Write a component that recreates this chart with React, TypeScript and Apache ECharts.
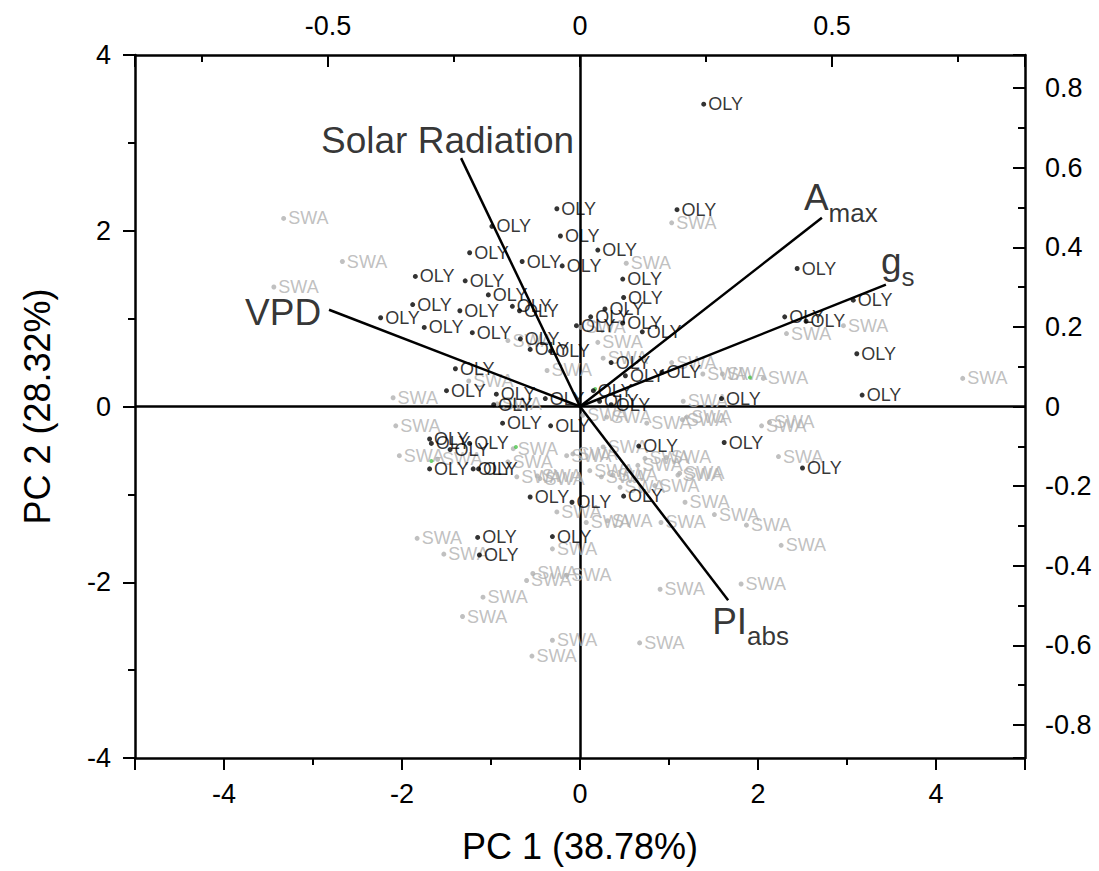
import React, { useEffect, useRef } from "react";
import * as echarts from "echarts";

// PCA scores (PC1, PC2)
const OLY_X = [1.39, 1.09, 2.44, 3.07, 2.30, 2.54, 3.11, 3.17, 0.20, 0.48, 0.49, 0.28, 0.12, -0.04, 0.70, 0.48, 0.35, 0.51, 0.92, 1.59, 0.15, 0.22, 0.35, -0.26, -0.22, -0.99, -1.24, -0.65, -0.20, -1.85, -1.29, -1.03, -1.88, -1.35, -0.76, -0.68, -2.24, -1.75, -1.21, -0.67, -0.56, -0.33, -1.40, -1.50, -0.94, -0.39, -0.97, -0.87, -0.33, -1.69, -1.67, -1.46, -1.24, -1.69, -1.20, -1.14, -0.56, -0.09, 0.49, 0.66, 1.62, 2.50, -1.15, -1.13, -0.31];
const OLY_Y = [3.44, 2.24, 1.57, 1.21, 1.02, 0.97, 0.60, 0.13, 1.78, 1.45, 1.24, 1.11, 1.02, 0.92, 0.85, 0.95, 0.50, 0.35, 0.39, 0.09, 0.18, 0.06, 0.02, 2.25, 1.94, 2.05, 1.75, 1.65, 1.60, 1.48, 1.43, 1.27, 1.16, 1.09, 1.14, 1.09, 1.01, 0.90, 0.84, 0.77, 0.65, 0.63, 0.43, 0.18, 0.14, 0.09, 0.02, -0.19, -0.22, -0.37, -0.42, -0.49, -0.42, -0.71, -0.71, -0.71, -1.03, -1.09, -1.02, -0.45, -0.41, -0.70, -1.49, -1.69, -1.48];

const SWA_X = [-3.33, -2.67, -3.44, -2.10, -1.25, -0.81, -0.37, -0.93, -2.07, -2.03, -1.60, -0.75, -0.81, -0.71, -0.45, -0.15, -0.26, -0.31, -1.83, -1.53, -0.60, -0.53, -0.15, -1.09, -1.32, -0.31, -0.54, 1.03, 0.52, 2.32, 2.96, 4.30, 0.20, 0.26, 1.03, 1.38, 1.60, 2.06, 1.16, 0.01, 0.75, 1.15, 2.04, 2.13, 2.23, -0.08, 0.26, 0.11, 0.24, 0.65, 0.73, 0.97, 1.10, 0.45, 0.84, 1.18, 1.51, 1.87, 2.26, 0.91, 0.07, 0.31, 0.90, 1.81, 0.67, 0.03, 0.30, 1.20, -0.48, 1.12, 0.37];
const SWA_Y = [2.14, 1.65, 1.36, 0.10, 0.29, 0.75, 0.41, 0.03, -0.22, -0.56, -0.60, -0.48, -0.63, -0.80, -0.82, -0.56, -1.20, -1.62, -1.50, -1.68, -1.98, -1.90, -1.92, -2.17, -2.39, -2.66, -2.84, 2.09, 1.63, 0.83, 0.92, 0.32, 0.73, 0.55, 0.50, 0.37, 0.37, 0.32, 0.06, 0.90, -0.19, -0.15, -0.22, -0.18, -0.57, -0.54, -0.46, -0.73, -0.80, -0.67, -0.59, -0.58, -0.78, -0.92, -0.90, -1.09, -1.23, -1.35, -1.58, -1.32, -1.32, -1.30, -2.08, -2.02, -2.69, -0.10, -0.12, -0.12, -0.79, -0.76, -0.78];

const GRN_X = [1.91, -0.72, -1.67, 0.17];
const GRN_Y = [0.33, -0.46, -0.62, 0.20];

// Loadings (top / right axes)
const LOAD_MAIN = ["Solar Radiation", "VPD", "A", "g", "PI"];
const LOAD_SUB = ["", "", "max", "s", "abs"];
const LOAD_X = [-0.236, -0.498, 0.480, 0.607, 0.294];
const LOAD_Y = [0.624, 0.243, 0.474, 0.306, -0.487];

const X_TITLE = "PC 1 (38.78%)";
const Y_TITLE = "PC 2 (28.32%)";

const FONT = "'Liberation Sans', Arial, sans-serif";

// label placement for each loading (dx, dy from the vector's end)
const LOAD_LABEL_OFFSET: [number, number][] = [
  [-140, -18],
  [-84, 3],
  [-18, -20],
  [-5, -23],
  [-16, 21],
];

export default function App() {
  const ref = useRef<HTMLDivElement>(null);

  useEffect(() => {
    if (!ref.current) return;
    const chart = echarts.init(ref.current, undefined, { renderer: "svg" });

    const oly = OLY_X.map((x, i) => [x, OLY_Y[i]]);
    const swa = SWA_X.map((x, i) => [x, SWA_Y[i]]);
    const grn = GRN_X.map((x, i) => [x, GRN_Y[i]]);

    const axisLine = { show: true, onZero: false, lineStyle: { color: "#000", width: 2.5 } };
    const labelStyle = { color: "#000", fontSize: 27, fontFamily: FONT };
    const fmt = (lim: number) => (v: number) => (Math.abs(v) > lim ? "" : String(Math.round(v * 100) / 100));

    const loadingLines = LOAD_X.map((x, i) => ({
      type: "line",
      xAxisIndex: 1,
      yAxisIndex: 1,
      data: [[0, 0], [x, LOAD_Y[i]]],
      symbol: "none",
      lineStyle: { color: "#000", width: 2.5 },
      z: 5,
      silent: true,
    }));

    const loadingLabels = {
      type: "scatter",
      xAxisIndex: 1,
      yAxisIndex: 1,
      symbolSize: 0,
      z: 6,
      silent: true,
      data: LOAD_X.map((x, i) => ({
        value: [x, LOAD_Y[i]],
        label: {
          show: true,
          position: "right",
          distance: 0,
          offset: LOAD_LABEL_OFFSET[i],
          formatter: LOAD_SUB[i] ? `{m|${LOAD_MAIN[i]}}{s|${LOAD_SUB[i]}}` : `{m|${LOAD_MAIN[i]}}`,
          rich: {
            m: { fontSize: 37, color: "#000", fontFamily: FONT },
            s: { fontSize: 26, color: "#000", fontFamily: FONT, padding: [30, 0, 0, 0] },
          },
        },
      })),
    };

    const option: any = {
      animation: false,
      backgroundColor: "#fff",
      grid: { left: 135, right: 74, top: 55, bottom: 113, containLabel: false, outerBoundsMode: "none" },
      xAxis: [
        {
          type: "value",
          position: "bottom",
          min: -5,
          max: 5,
          minInterval: 2,
          maxInterval: 2,
          axisLine,
          axisTick: { show: true, inside: false, length: 12, lineStyle: { color: "#000", width: 2 } },
          minorTick: { show: true, splitNumber: 2, length: 7, lineStyle: { color: "#000", width: 2 } },
          axisLabel: { ...labelStyle, margin: 22, formatter: fmt(4.5) },
          splitLine: { show: false },
          minorSplitLine: { show: false },
          name: X_TITLE,
          nameLocation: "middle",
          nameGap: 70,
          nameTextStyle: { fontSize: 36, color: "#000", fontFamily: FONT },
        },
        {
          type: "value",
          position: "top",
          min: -0.883,
          max: 0.883,
          minInterval: 0.5,
          maxInterval: 0.5,
          axisLine,
          axisTick: { show: true, inside: true, length: 12, lineStyle: { color: "#000", width: 2 } },
          minorTick: { show: true, splitNumber: 2, length: 7, lineStyle: { color: "#000", width: 2 } },
          axisLabel: { ...labelStyle, margin: 16, formatter: fmt(0.8) },
          splitLine: { show: false },
        },
      ],
      yAxis: [
        {
          type: "value",
          position: "left",
          min: -4,
          max: 4,
          interval: 2,
          axisLine,
          axisTick: { show: true, inside: false, length: 12, lineStyle: { color: "#000", width: 2 } },
          minorTick: { show: true, splitNumber: 2, length: 7, lineStyle: { color: "#000", width: 2 } },
          axisLabel: { ...labelStyle, margin: 24 },
          splitLine: { show: false },
          minorSplitLine: { show: false },
          name: Y_TITLE,
          nameLocation: "middle",
          nameRotate: 90,
          nameGap: 80,
          nameTextStyle: { fontSize: 36, color: "#000", fontFamily: FONT },
        },
        {
          type: "value",
          position: "right",
          min: -0.883,
          max: 0.883,
          minInterval: 0.2,
          maxInterval: 0.2,
          axisLine,
          axisTick: { show: true, inside: true, length: 12, lineStyle: { color: "#000", width: 2 } },
          minorTick: { show: true, splitNumber: 2, length: 7, lineStyle: { color: "#000", width: 2 } },
          axisLabel: { ...labelStyle, margin: 20, formatter: fmt(0.85) },
          splitLine: { show: false },
        },
      ],
      series: [
        {
          type: "scatter",
          name: "SWA",
          data: swa,
          symbol: "circle",
          symbolSize: 5,
          itemStyle: { color: "#b0b0b0" },
          label: { show: true, position: "right", distance: 2, formatter: "SWA", color: "#b0b0b0", fontSize: 18, fontFamily: FONT },
          z: 2,
          silent: true,
          markLine: {
            silent: true,
            symbol: ["none", "none"],
            label: { show: false },
            lineStyle: { color: "#000", width: 2.5, type: "solid" },
            data: [{ xAxis: 0 }, { yAxis: 0 }],
            z: 1,
          },
        },
        {
          type: "scatter",
          name: "GRN",
          data: grn,
          symbol: "circle",
          symbolSize: 4,
          itemStyle: { color: "#4cc44c" },
          z: 3,
          silent: true,
        },
        {
          type: "scatter",
          name: "OLY",
          data: oly,
          symbol: "circle",
          symbolSize: 5,
          itemStyle: { color: "#000" },
          label: { show: true, position: "right", distance: 2, formatter: "OLY", color: "#000", fontSize: 18, fontFamily: FONT },
          z: 4,
          silent: true,
        },
        ...loadingLines,
        loadingLabels,
      ],
    };

    chart.setOption(option);
    return () => chart.dispose();
  }, []);

  return (
    <div
      ref={ref}
      style={{ position: "fixed", left: 0, top: 0, width: 1099, height: 871, background: "#fff" }}
    />
  );
}
